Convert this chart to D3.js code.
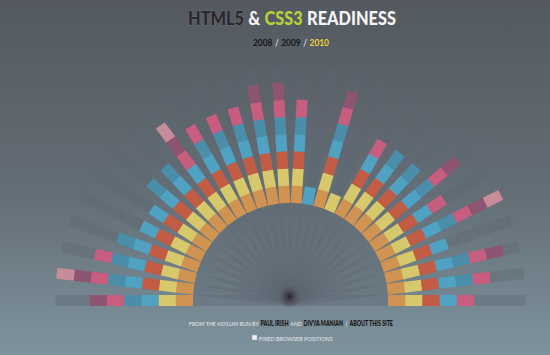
<!DOCTYPE html>
<html>
<head>
<meta charset="utf-8">
<script src="https://cdn.jsdelivr.net/npm/d3@7"></script>
<style>
  html, body { margin: 0; padding: 0; }
  body { width: 550px; height: 355px; overflow: hidden; background: #66737c; }
</style>
</head>
<body>
<script>
// segment keys, in the order they stack from the centre outwards
const segmentKeys = ["O", "Y", "R", "Bl", "Bd", "P", "M", "L"];
const segmentFills = ["#d09352", "#d7c86c", "#c35c45", "#50a2c2", "#4a8ea9", "#c75d7f", "#8d5571", "#c78c9a"];

// one ray per feature, left horizontal -> right horizontal, inner -> outer
const rays = [
  ["O", "Y", "Bl", "Bd", "P", "M"],
  ["O", "Y", "R", "Bl", "Bd", "P", "M", "L"],
  ["O", "Y", "R", "Bl", "Bd", "P"],
  ["O", "Y", "R", "Bl", "Bd"],
  ["O", "Y", "R", "Bl"],
  ["O", "Y", "R", "Bl"],
  ["O", "Y", "R", "Bl", "Bd"],
  ["O", "Y", "R", "Bl", "Bd"],
  ["O", "Y", "R", "Bl", "P", "M", "L"],
  ["O", "Y", "R", "Bl", "Bd", "P"],
  ["O", "Y", "R", "Bl", "Bd", "P"],
  ["O", "Y", "R", "Bl", "Bd", "P"],
  ["O", "Y", "R", "Bl", "Bd", "P", "M"],
  ["O", "Y", "R", "Bl", "Bd", "P", "M"],
  ["O", "Y", "R", "Bl", "Bd", "P"],
  ["Bl"],
  ["O", "Y", "R", "Bl", "Bd", "P", "M"],
  ["Y"],
  ["O", "Y", "R", "Bl", "P"],
  ["O", "Y", "R", "Bl", "Bd"],
  ["O", "Y", "R", "Bl", "Bd"],
  ["O", "Y", "R", "Bl", "Bd", "P", "M"],
  ["O", "Y", "R", "Bl", "P"],
  ["O", "Y", "R", "Bl", "Bd", "P", "M", "L"],
  ["O", "Y", "R", "Bl"],
  ["O", "Y", "R", "Bl", "Bd", "P", "M"],
  ["O", "Y", "R", "Bl", "Bd", "P"],
  ["O", "Y", "R", "Bl", "P"]
];

const years = ["2008", "2009", "2010"];
const maxSegments = 8;

const width = 550, height = 355;
const cx = 290.5, cy = 300.5;
const barWidth = 11;
const font = "Lato, 'Open Sans', sans-serif";

const svg = d3.select("body").append("svg")
    .attr("width", width)
    .attr("height", height);

const defs = svg.append("defs");

const bg = defs.append("linearGradient")
    .attr("id", "bg")
    .attr("x1", 0).attr("y1", 0).attr("x2", 0).attr("y2", 1);
bg.append("stop").attr("offset", "0%").attr("stop-color", "#545960");
bg.append("stop").attr("offset", "55%").attr("stop-color", "#646e76");
bg.append("stop").attr("offset", "100%").attr("stop-color", "#7e939e");

const blob = defs.append("radialGradient").attr("id", "blob");
blob.append("stop").attr("offset", "0%").attr("stop-color", "#22172a").attr("stop-opacity", 0.9);
blob.append("stop").attr("offset", "40%").attr("stop-color", "#3b2e40").attr("stop-opacity", 0.55);
blob.append("stop").attr("offset", "100%").attr("stop-color", "#4f4c5c").attr("stop-opacity", 0);

svg.append("rect")
    .attr("width", width)
    .attr("height", height)
    .attr("fill", "url(#bg)");

// scales
const angle = d3.scaleLinear().domain([0, rays.length - 1]).range([180, 0]);
const radius = d3.scaleLinear().domain([0, maxSegments]).range([97.5, 235]);
const color = d3.scaleOrdinal().domain(segmentKeys).range(segmentFills);

const ray = svg.append("g")
    .attr("class", "rays")
    .selectAll("g")
    .data(rays)
    .enter().append("g")
    .attr("transform", (d, i) => `translate(${cx},${cy}) rotate(${-angle(i)})`);

// faint track behind every ray, running into the centre
ray.append("rect")
    .attr("class", "track")
    .attr("x", 0)
    .attr("y", -barWidth / 2)
    .attr("width", radius(maxSegments))
    .attr("height", barWidth)
    .attr("fill", "#5c6671")
    .attr("fill-opacity", 0.38);

ray.selectAll("rect.seg")
    .data(d => d.map((key, k) => ({ key, k })))
    .enter().append("rect")
    .attr("class", "seg")
    .attr("x", d => radius(d.k))
    .attr("y", -barWidth / 2)
    .attr("width", d => radius(d.k + 1) - radius(d.k) + 0.3)
    .attr("height", barWidth)
    .attr("fill", d => color(d.key));

// dark smudge at the hub
svg.append("ellipse")
    .attr("cx", cx - 1)
    .attr("cy", cy - 4)
    .attr("rx", 11)
    .attr("ry", 12)
    .attr("fill", "url(#blob)");

// lays out coloured pieces of one line side by side, then squeezes the row to a width
function textRow(x, y, w, size, parts) {
    const g = svg.append("g");
    let cursor = 0;
    parts.forEach(p => {
        const t = g.append("text")
            .attr("x", cursor)
            .attr("y", 0)
            .attr("fill", p.fill)
            .style("font-family", font)
            .style("font-size", size + "px")
            .style("font-weight", p.weight || "normal")
            .text(p.text);
        if (p.stroke) t.attr("stroke", p.stroke).attr("stroke-width", 0.5).attr("paint-order", "stroke");
        cursor += t.node().getComputedTextLength() + (p.gap || 0);
    });
    g.attr("transform", `translate(${x},${y}) scale(${w / cursor},1)`);
    return g;
}

// title
textRow(188, 25, 208, 19, [
    { text: "HTML5", fill: "#2b272d", weight: 900, stroke: "#80838a", gap: 5 },
    { text: "&", fill: "#f4f4f2", weight: 900, gap: 5 },
    { text: "CSS3", fill: "#b6d23a", weight: 900, gap: 5 },
    { text: "READINESS", fill: "#f4f4f2", weight: 900 }
]);

// year switcher
const yearParts = [];
years.forEach((y, i) => {
    if (i > 0) yearParts.push({ text: "/", fill: "#f2f2f2", gap: 3 });
    yearParts.push({ text: y, fill: i === years.length - 1 ? "#f2d13c" : "#161616", weight: "bold", gap: 3 });
});
yearParts[yearParts.length - 1].gap = 0;
textRow(253, 45.5, 76, 10, yearParts);

// footer
textRow(189, 325.5, 204, 6.5, [
    { text: "FROM THE ASYLUM RUN BY", fill: "#e8ecef", gap: 2 },
    { text: "PAUL IRISH", fill: "#121212", weight: 900, gap: 2 },
    { text: "AND", fill: "#e8ecef", gap: 2 },
    { text: "DIVYA MANIAN", fill: "#121212", weight: 900, gap: 3 },
    { text: "|", fill: "#e8ecef", gap: 3 },
    { text: "ABOUT THIS SITE", fill: "#121212", weight: 900 }
]);

svg.append("rect")
    .attr("x", 252)
    .attr("y", 335)
    .attr("width", 5)
    .attr("height", 5)
    .attr("fill", "#eef0f2")
    .attr("stroke", "#9aa4aa")
    .attr("stroke-width", 0.5);

textRow(259, 340.5, 74, 6.5, [
    { text: "FIXED BROWSER POSITIONS", fill: "#e8ecef" }
]);
</script>
</body>
</html>
